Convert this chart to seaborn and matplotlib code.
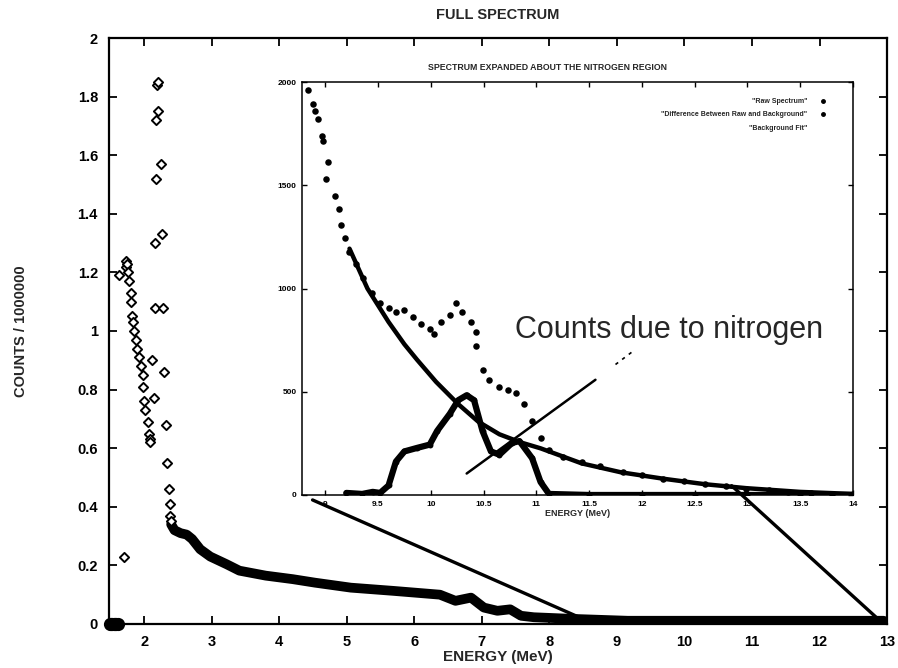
import numpy as np
import pandas as pd
import matplotlib
matplotlib.use("Agg")
import matplotlib.pyplot as plt
import seaborn as sns
from matplotlib.patches import ConnectionPatch
from matplotlib.ticker import FuncFormatter

# ---------------- data ----------------
# Main spectrum: sparse points (open diamonds), MeV vs counts/1e6
main_sparse_x = [1.49, 1.51, 1.53, 1.55, 1.57, 1.59, 1.61, 1.70,
                 1.63, 1.73, 1.73, 1.74, 1.76, 1.78, 1.80, 1.81, 1.82, 1.83, 1.85,
                 1.88, 1.90, 1.93, 1.95, 1.98, 1.98, 2.00, 2.01, 2.05, 2.07, 2.08, 2.09,
                 2.14, 2.12, 2.16, 2.28, 2.16, 2.27, 2.17, 2.25, 2.17, 2.20, 2.19, 2.20,
                 2.29, 2.32, 2.34, 2.37, 2.38, 2.39, 2.40]
main_sparse_y = [0.0, 0.0, 0.0, 0.0, 0.0, 0.0, 0.0, 0.23,
                 1.19, 1.24, 1.22, 1.23, 1.20, 1.17, 1.13, 1.10, 1.05, 1.03, 1.00,
                 0.97, 0.94, 0.91, 0.88, 0.85, 0.81, 0.76, 0.73, 0.69, 0.65, 0.63, 0.62,
                 0.77, 0.90, 1.08, 1.08, 1.30, 1.33, 1.52, 1.57, 1.72, 1.75, 1.84, 1.85,
                 0.86, 0.68, 0.55, 0.46, 0.41, 0.37, 0.35]
# Main spectrum: dense part (thick band)
main_dense_x = [2.40, 2.45, 2.54, 2.63, 2.71, 2.83, 2.98, 3.22, 3.41, 3.80, 4.20, 4.53,
                5.06, 5.69, 6.38, 6.61, 6.84, 7.03, 7.23, 7.42, 7.58, 7.77, 8.39, 9.16,
                10.3, 11.5, 12.5, 12.95]
main_dense_y = [0.34, 0.32, 0.31, 0.305, 0.29, 0.255, 0.23, 0.204, 0.182, 0.165, 0.153, 0.141,
                0.124, 0.113, 0.100, 0.079, 0.090, 0.056, 0.045, 0.050, 0.028, 0.023, 0.017, 0.011,
                0.011, 0.011, 0.011, 0.011]

# Inset: raw spectrum (counts)
raw_x = [8.84, 8.88, 8.90, 8.93, 8.97, 8.98, 9.01, 9.03, 9.09, 9.13, 9.15, 9.19, 9.23, 9.29,
         9.36, 9.44, 9.52, 9.60, 9.67, 9.75, 9.83, 9.91, 9.99, 10.03, 10.10, 10.18, 10.24,
         10.30, 10.38, 10.43, 10.43, 10.49, 10.55, 10.65, 10.73, 10.81, 10.88, 10.96, 11.04,
         11.12, 11.25, 11.43, 11.60, 11.82, 12.00, 12.20, 12.40, 12.60, 12.80, 12.99, 13.20,
         13.38, 13.60, 13.80, 14.00]
raw_y = [1960, 1895, 1860, 1820, 1738, 1713, 1531, 1614, 1449, 1383, 1308, 1243, 1177, 1119,
         1053, 978, 929, 904, 888, 896, 863, 830, 805, 780, 838, 871, 929,
         888, 838, 789, 723, 607, 558, 525, 508, 492, 442, 360, 277,
         219, 185, 162, 140, 112, 95, 79, 66, 54, 42, 30, 22,
         13, 10, 7, 5]
# Inset: difference between raw and background
diff_x = [9.20, 9.35, 9.45, 9.52, 9.60, 9.67, 9.75, 9.87, 9.99, 10.06, 10.18, 10.26, 10.34,
          10.41, 10.49, 10.57, 10.65, 10.77, 10.84, 10.96, 11.04, 11.12, 11.5, 12.0, 12.5,
          13.0, 13.5, 14.0]
diff_y = [10, 5, 15, 10, 46, 162, 211, 228, 244, 310, 393, 459, 483,
          459, 310, 211, 195, 252, 261, 178, 63, 5, 0, 0, 0,
          0, 0, 0]
# Inset: background fit
bg_x = [9.23, 9.40, 9.60, 9.75, 9.87, 10.05, 10.26, 10.45, 10.65, 10.85, 11.04, 11.43, 11.80,
        12.20, 12.60, 12.99, 13.50, 14.00]
bg_y = [1193, 1000, 838, 730, 655, 548, 440, 355, 294, 255, 226, 153, 110,
        79, 52, 33, 15, 5]

main_xticks = [2, 3, 4, 5, 6, 7, 8, 9, 10, 11, 12, 13]
main_yticks = [0, 0.2, 0.4, 0.6, 0.8, 1.0, 1.2, 1.4, 1.6, 1.8, 2.0]
inset_xticks = [9, 9.5, 10, 10.5, 11, 11.5, 12, 12.5, 13, 13.5, 14]
inset_yticks = [0, 500, 1000, 1500, 2000]

legend_labels = ['"Raw Spectrum"', '"Difference Between Raw and Background"', '"Background Fit"']

# ---------------- style ----------------
sns.set_theme(style="ticks")
plt.rcParams['font.family'] = ['Liberation Sans', 'DejaVu Sans']
plt.rcParams['font.weight'] = 'bold'
plt.rcParams['axes.labelweight'] = 'bold'
plt.rcParams['axes.titleweight'] = 'bold'

fig = plt.figure(figsize=(8.98, 6.68), dpi=100)
ax = fig.add_axes([0.1214, 0.0659, 0.8664, 0.8772])

sparse_df = pd.DataFrame({"E": main_sparse_x, "C": main_sparse_y})
dense_df = pd.DataFrame({"E": main_dense_x, "C": main_dense_y})

sns.lineplot(data=dense_df, x="E", y="C", ax=ax, color="black", linewidth=7,
             solid_capstyle="round", solid_joinstyle="round")
sns.scatterplot(data=sparse_df[sparse_df["C"] > 0], x="E", y="C", ax=ax, marker="D", s=22,
                facecolor="white", edgecolor="black", linewidth=1.4, zorder=3)
# blob at zero
sns.scatterplot(data=sparse_df[sparse_df["C"] == 0], x="E", y="C", ax=ax, marker="o", s=90,
                color="black", linewidth=0, zorder=4, clip_on=False)

ax.set_xlim(1.48, 12.97)
ax.set_ylim(0, 2)
ax.set_xticks(main_xticks)
ax.set_yticks(main_yticks)
ax.yaxis.set_major_formatter(FuncFormatter(lambda v, p: f"{v:g}"))
ax.tick_params(direction="in", length=6, width=1.3, top=True, right=True,
               labelsize=10.5, pad=8, colors="black")
for s in ax.spines.values():
    s.set_linewidth(1.6)
    s.set_color("black")
ax.set_xlabel("ENERGY (MeV)", fontsize=11)
ax.set_ylabel("COUNTS / 1000000", fontsize=10.5)
ax.xaxis.set_label_coords(0.5, -0.045)
ax.yaxis.set_label_coords(-0.104, 0.5)
ax.set_title("FULL SPECTRUM", fontsize=10.5, pad=14)
ax.grid(False)

# ---------------- inset ----------------
ins = fig.add_axes([0.3363, 0.259, 0.6136, 0.6182])
ins.set_facecolor("white")

raw_df = pd.DataFrame({"E": raw_x, "C": raw_y})
diff_df = pd.DataFrame({"E": diff_x, "C": diff_y})
bg_df = pd.DataFrame({"E": bg_x, "C": bg_y})

sns.lineplot(data=bg_df, x="E", y="C", ax=ins, color="black", linewidth=3.2,
             solid_joinstyle="round")
sns.lineplot(data=diff_df, x="E", y="C", ax=ins, color="black", linewidth=4.5,
             solid_joinstyle="round")
sns.scatterplot(data=raw_df, x="E", y="C", ax=ins, marker="o", s=22, color="black",
                linewidth=0, zorder=3)
sns.scatterplot(data=diff_df, x="E", y="C", ax=ins, marker="o", s=18, color="black",
                linewidth=0, zorder=3)

ins.set_xlim(8.78, 14.0)
ins.set_ylim(0, 2000)
ins.set_xticks(inset_xticks)
ins.set_yticks(inset_yticks)
ins.xaxis.set_major_formatter(FuncFormatter(lambda v, p: f"{v:g}"))
ins.tick_params(direction="in", length=3.5, width=1, top=True, right=True,
                labelsize=6, pad=4, colors="black")
for s in ins.spines.values():
    s.set_linewidth(1.1)
    s.set_color("black")
ins.set_xlabel("ENERGY (MeV)", fontsize=6.5, labelpad=1)
ins.set_ylabel("")
ins.set_title("SPECTRUM EXPANDED ABOUT THE NITROGEN REGION", fontsize=6.3, pad=9, x=0.445)
ins.grid(False)

# legend (gnuplot style: text right-aligned, marker to the right)
leg_y = [1908, 1843, 1774]
for lbl, yy, has_marker in zip(legend_labels, leg_y, [True, True, False]):
    ins.text(13.57, yy, lbl, fontsize=5, ha="right", va="center")
    if has_marker:
        ins.plot([13.72], [yy], marker="o", color="black", markersize=2.5)

# annotation
ins.text(10.8, 800, "Counts due to nitrogen", fontsize=22, ha="left", va="center",
         fontweight="normal")
ins.plot([10.34, 11.56], [104, 558], color="black", linewidth=1.8)
ins.plot([11.75, 11.92], [632, 698], color="black", linewidth=1.2, linestyle=(0, (2, 3)))

# connector lines from inset to main axes
for xyA, xyB in [((8.88, -24), (8.47, 0.02)), ((12.85, 45), (12.9, 0.01))]:
    cp = ConnectionPatch(xyA=xyA, coordsA=ins.transData, xyB=xyB, coordsB=ax.transData,
                         color="black", linewidth=2.4, zorder=10)
    fig.add_artist(cp)

fig.savefig("out.png", dpi=100)
